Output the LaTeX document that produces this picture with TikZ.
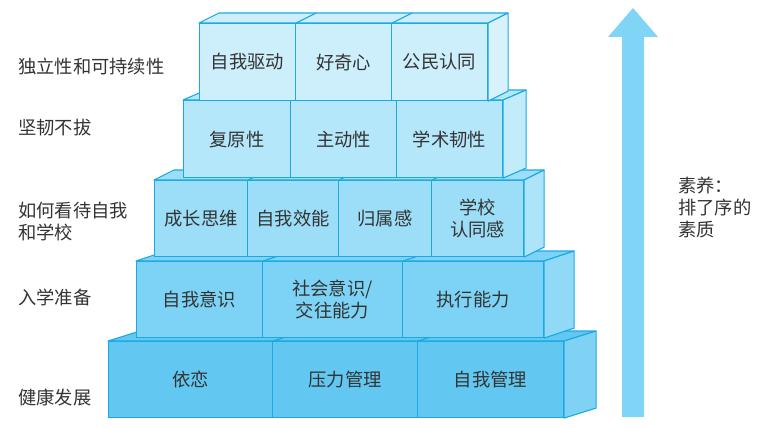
\documentclass[tikz,border=0pt]{standalone}
\usepackage{fontspec}
\setmainfont{Noto Sans CJK SC}
\usetikzlibrary{calc}
\definecolor{edge}{HTML}{1CA9E2}
\definecolor{txt}{HTML}{333333}
\definecolor{rowA}{HTML}{62C8F2}
\definecolor{rowAs}{HTML}{80D2F5}
\definecolor{rowB}{HTML}{7DD3F5}
\definecolor{rowBs}{HTML}{90DAF7}
\definecolor{rowC}{HTML}{9CDEF8}
\definecolor{rowCs}{HTML}{ADE4F9}
\definecolor{rowD}{HTML}{B5E7FA}
\definecolor{rowDs}{HTML}{C2ECFA}
\definecolor{rowE}{HTML}{CDEFFB}
\definecolor{rowEs}{HTML}{D8F2FC}
\definecolor{arrowc}{HTML}{80D4F6}
\newcommand\lbl{\fontsize{18.3}{22}\selectfont}
\newcommand\pyrrow[7]{%
  \filldraw[face, fill=#5] (#1.north west) -- ++(#3,#4) -- ($(#2.north east)+(#3,#4)$) -- (#2.north east) -- cycle;
  \filldraw[face, fill=#6] (#2.north east) -- ++(#3,#4) -- ($(#2.south east)+(#3,#4)$) -- (#2.south east) -- cycle;
  \foreach \n in {#7} {\draw[face] (\n.north east) -- ++(#3,#4);}
}
\begin{document}
\begin{tikzpicture}[x=1pt,y=-1pt,
  cell/.style={draw=edge, line width=1.1pt, inner sep=0pt, anchor=north west, align=center, font=\lbl, text=txt},
  face/.style={draw=edge, line width=1.1pt, line join=round},
  side/.style={anchor=west, align=left, font=\lbl, text=txt, inner sep=0pt}]
\useasboundingbox (0,0) rectangle (760,428);
% arrow
\fill[arrowc] (622,417) -- (622,37) -- (608,37) -- (633,8) -- (658,37) -- (644,37) -- (644,417) -- cycle;
% row 1
\node[cell, fill=rowA, minimum width=164pt, minimum height=76pt] (r1a) at (108,341) {依恋};
\node[cell, fill=rowA, minimum width=145pt, minimum height=76pt] (r1b) at (272,341) {压力管理};
\node[cell, fill=rowA, minimum width=146pt, minimum height=76pt] (r1c) at (417,341) {自我管理};
\pyrrow{r1a}{r1c}{32}{-10}{rowA}{rowAs}{r1a,r1b}
% row 2
\node[cell, fill=rowB, minimum width=126pt, minimum height=76pt] (r2a) at (136,261) {自我意识};
\node[cell, fill=rowB, minimum width=140pt, minimum height=76pt] (r2b) at (262,261) {社会意识/\\交往能力};
\node[cell, fill=rowB, minimum width=141pt, minimum height=76pt] (r2c) at (402,261) {执行能力};
\pyrrow{r2a}{r2c}{30}{-10}{rowB}{rowBs}{r2a,r2b}
% row 3
\node[cell, fill=rowC, minimum width=93pt, minimum height=76pt] (r3a) at (154,180) {成长思维};
\node[cell, fill=rowC, minimum width=91pt, minimum height=76pt] (r3b) at (247,180) {自我效能};
\node[cell, fill=rowC, minimum width=93pt, minimum height=76pt] (r3c) at (338,180) {归属感};
\node[cell, fill=rowC, minimum width=92pt, minimum height=76pt] (r3d) at (431,180) {学校\\认同感};
\pyrrow{r3a}{r3d}{20}{-10}{rowC}{rowCs}{r3a,r3b,r3c}
% row 4
\node[cell, fill=rowD, minimum width=107pt, minimum height=77pt] (r4a) at (183,100) {复原性};
\node[cell, fill=rowD, minimum width=106pt, minimum height=77pt] (r4b) at (290,100) {主动性};
\node[cell, fill=rowD, minimum width=106pt, minimum height=77pt] (r4c) at (396,100) {学术韧性};
\pyrrow{r4a}{r4c}{23}{-10}{rowD}{rowDs}{r4a,r4b}
% row 5
\node[cell, fill=rowE, minimum width=96pt, minimum height=77pt] (r5a) at (199,23) {自我驱动};
\node[cell, fill=rowE, minimum width=96pt, minimum height=77pt] (r5b) at (295,23) {好奇心};
\node[cell, fill=rowE, minimum width=96pt, minimum height=77pt] (r5c) at (391,23) {公民认同};
\pyrrow{r5a}{r5c}{20}{-10}{rowE}{rowEs}{r5a,r5b}
% left labels
\node[side] (l5) at (18,67) {独立性和可持续性};
\node[side] (l4) at (18,128) {坚韧不拔};
\node[side] (l3) at (18,222) {如何看待自我\\和学校};
\node[side] (l2) at (18,297) {入学准备};
\node[side] (l1) at (18,397) {健康发展};
% right label
\node[side] (rt) at (678,207) {素养：\\排了序的\\素质};
\end{tikzpicture}
\end{document}
